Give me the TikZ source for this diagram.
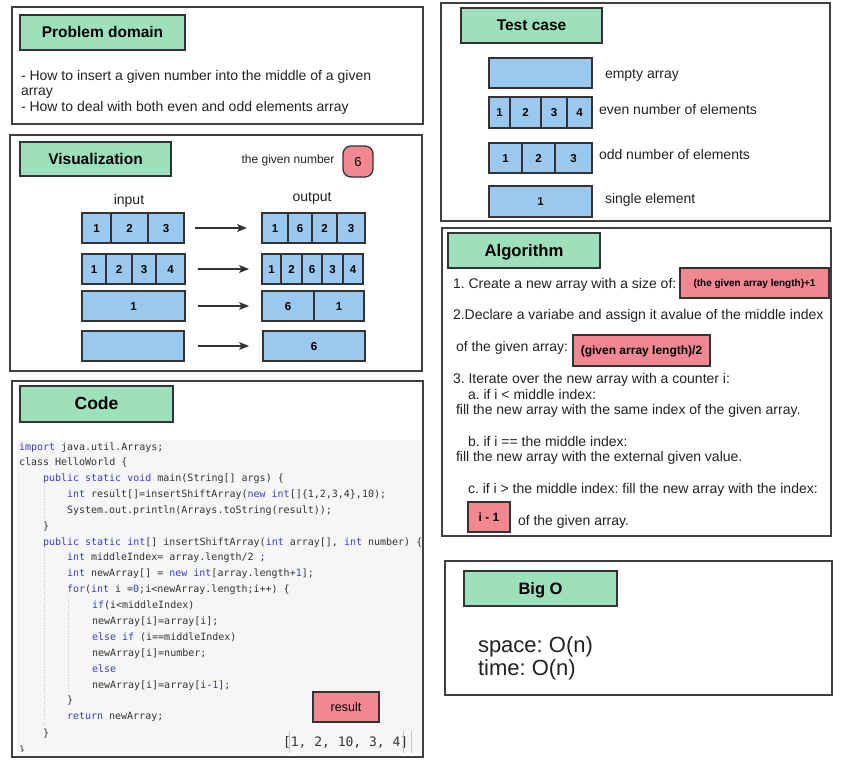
\documentclass[tikz,border=0pt]{standalone}
\usepackage{fontspec}
\setmainfont{Liberation Sans}
\newfontfamily\codefont{DejaVu Sans Mono}
\usetikzlibrary{arrows.meta}
\frenchspacing

\definecolor{edge}{RGB}{51,51,51}
\definecolor{panelline}{RGB}{64,64,64}
\definecolor{hdrgreen}{RGB}{158,224,188}
\definecolor{cellblue}{RGB}{155,200,238}
\definecolor{redfill}{RGB}{240,135,145}
\definecolor{textgray}{RGB}{34,34,34}
\definecolor{codebg}{RGB}{246,246,246}
\definecolor{codegray}{RGB}{51,51,51}
\definecolor{kw}{RGB}{60,60,200}
\definecolor{guide}{RGB}{205,205,205}

% box from its corner coordinates: style, name, x1, y1, x2, y2, text
\newcommand\boxat[7]{%
  \node[#1, minimum width={(#5-#3)*1pt}, minimum height={(#6-#4)*1pt}]
    (#2) at ({(#3+#5)/2},{(#4+#6)/2}) {#7};}
\newcommand\kw[1]{\textcolor{kw}{#1}}
\newcommand\codeline[4]{\node[codeln] (#1) at (#2,#3) {#4};}

\tikzset{
  panel/.style={draw=panelline, line width=1.3pt, fill=white, inner sep=0pt, outer sep=0pt},
  hdr/.style={draw=edge, line width=1.3pt, fill=hdrgreen, inner sep=0pt, outer sep=0pt,
    text=black, text height=11pt, text depth=0pt, font=\bfseries\fontsize{15.5}{18}\selectfont},
  cell/.style={draw=edge, line width=1.4pt, fill=cellblue, inner sep=0pt, outer sep=0pt,
    text=black, text height=8pt, text depth=0pt, font=\bfseries\fontsize{11.5}{13}\selectfont},
  redbox/.style={draw=edge, line width=1.3pt, fill=redfill, inner sep=0pt, outer sep=0pt,
    text=black, text height=8.6pt, text depth=0pt, font=\bfseries\fontsize{12}{14}\selectfont},
  txt/.style={inner sep=0pt, outer sep=0pt, text=textgray, text height=9.8pt, text depth=0pt,
    font=\fontsize{14}{17}\selectfont},
  small/.style={text height=8.4pt, font=\fontsize{12}{14}\selectfont},
  big/.style={text height=15.4pt, font=\fontsize{22}{26}\selectfont},
  codeln/.style={anchor=west, inner sep=0pt, outer sep=0pt, text=codegray, text height=7pt,
    text depth=0pt, font=\codefont\fontsize{10}{12}\selectfont},
  conn/.style={draw=edge, line width=1.4pt, -{Stealth[length=10pt, width=8pt, inset=2.5pt]}},
}

\begin{document}
\begin{tikzpicture}[x=1pt, y=-1pt]
\useasboundingbox (0,0) rectangle (850,762);

% ---------- panels ----------
\boxat{panel}{pdomain}{12}{7}{423}{124}{}
\boxat{panel}{pvis}{10}{135}{422}{371}{}
\boxat{panel}{pcode}{12}{381}{423}{757}{}
\boxat{panel}{ptest}{441}{3}{830}{221}{}
\boxat{panel}{palgo}{442}{228}{831}{536}{}
\boxat{panel}{pbigo}{445}{561}{832}{695}{}

% ---------- problem domain ----------
\boxat{hdr}{hdomain}{20}{15}{185}{50}{Problem domain}
\node[txt, anchor=west] (pd1) at (21,76) {- How to insert a given number into the middle of a given};
\node[txt, anchor=west] (pd2) at (21,91) {array};
\node[txt, anchor=west] (pd3) at (21,107) {- How to deal with both even and odd elements array};

% ---------- visualization ----------
\boxat{hdr}{hvis}{20}{142}{171}{176}{Visualization}
\node[txt, small] (given) at (288,159) {the given number};
\boxat{redbox, rounded corners=8pt, font=\fontsize{13}{15}\selectfont, text height=9.3pt}{gnum}{343}{146}{373}{177}{6}
\node[txt] (inlbl) at (129,200) {input};
\node[txt] (outlbl) at (312,197) {output};

% row 1
\boxat{cell}{v1ia}{82}{213}{111}{243}{1}
\boxat{cell}{v1ib}{111}{213}{148}{243}{2}
\boxat{cell}{v1ic}{148}{213}{184}{243}{3}
\boxat{cell}{v1oa}{262}{213}{288}{243}{1}
\boxat{cell}{v1ob}{288}{213}{312}{243}{6}
\boxat{cell}{v1oc}{312}{213}{337}{243}{2}
\boxat{cell}{v1od}{337}{213}{365}{243}{3}
% row 2
\boxat{cell}{v2ia}{82}{254}{106}{284}{1}
\boxat{cell}{v2ib}{106}{254}{132}{284}{2}
\boxat{cell}{v2ic}{132}{254}{156}{284}{3}
\boxat{cell}{v2id}{156}{254}{185}{284}{4}
\boxat{cell}{v2oa}{262}{254}{281}{284}{1}
\boxat{cell}{v2ob}{281}{254}{302}{284}{2}
\boxat{cell}{v2oc}{302}{254}{322}{284}{6}
\boxat{cell}{v2od}{322}{254}{343}{284}{3}
\boxat{cell}{v2oe}{343}{254}{363}{284}{4}
% row 3
\boxat{cell}{v3ia}{82}{291}{185}{321}{1}
\boxat{cell}{v3oa}{262}{291}{314}{321}{6}
\boxat{cell}{v3ob}{314}{291}{364}{321}{1}
% row 4
\boxat{cell}{v4ia}{82}{331}{184}{361}{}
\boxat{cell}{v4oa}{263}{331}{365}{361}{6}

\draw[conn, shorten <=11pt, shorten >=15pt] (v1ic) -- (v1oa);
\draw[conn, shorten <=13pt, shorten >=13pt] (v2id) -- (v2oa);
\draw[conn, shorten <=13pt, shorten >=13pt] (v3ia) -- (v3oa);
\draw[conn, shorten <=14pt, shorten >=14pt] (v4ia) -- (v4oa);

% ---------- code ----------
\boxat{hdr}{hcode}{20}{386}{173}{422}{\fontsize{17.5}{20}\selectfont Code}
\boxat{draw=none, fill=codebg, inner sep=0pt}{codearea}{17}{440}{422}{752}{}
\draw[guide, line width=0.6pt, dotted] (44,486) -- (44,518);
\draw[guide, line width=0.6pt, dotted] (44,550) -- (44,725);
\draw[guide, line width=0.6pt, dotted] (68,597) -- (68,693);
\begin{scope}
\clip (15,440) rectangle (430,751);
\codeline{c01}{19}{447}{\kw{import} java.util.Arrays;}
\codeline{c02}{19}{462}{class HelloWorld \{}
\codeline{c03}{43}{478}{\kw{public static void} main(String[] args) \{}
\codeline{c04}{67}{494}{\kw{int} result[]=insertShiftArray(\kw{new int}[]\{1,2,3,4\},10);}
\codeline{c05}{67}{510}{System.out.println(Arrays.toString(result));}
\codeline{c06}{43}{526}{\}}
\codeline{c07}{43}{542}{\kw{public static int}[] insertShiftArray(\kw{int} array[], \kw{int} number) \{}
\codeline{c08}{67}{557}{\kw{int} middleIndex= array.length/2 ;}
\codeline{c09}{67}{573}{\kw{int} newArray[] = \kw{new int}[array.length+\kw{1}];}
\codeline{c10}{67}{589}{\kw{for}(\kw{int} i =\kw{0};i<newArray.length;i++) \{}
\codeline{c11}{92}{605}{\kw{if}(i<middleIndex)}
\codeline{c12}{92}{621}{newArray[i]=array[i];}
\codeline{c13}{92}{637}{\kw{else if} (i==middleIndex)}
\codeline{c14}{92}{653}{newArray[i]=number;}
\codeline{c15}{92}{669}{\kw{else}}
\codeline{c16}{92}{685}{newArray[i]=array[i-\kw{1}];}
\codeline{c17}{67}{700}{\}}
\codeline{c18}{67}{716}{\kw{return} newArray;}
\codeline{c19}{43}{733}{\}}
\codeline{c20}{19}{750}{\}}
\end{scope}
\boxat{redbox, font=\fontsize{12.5}{15}\selectfont}{resbox}{313}{692}{379}{722}{result}
\node[codeln, font=\codefont\fontsize{13}{15}\selectfont, text height=9.1pt] (resout) at (283,742) {[1, 2, 10, 3, 4]};
\draw[gray!45, line width=0.5pt] (289,731) -- (289,753);
\draw[gray!45, line width=0.5pt] (403,731) -- (403,753);
\draw[gray!45, line width=0.5pt] (411,731) -- (411,753);

% ---------- test case ----------
\boxat{hdr}{htest}{461}{8}{602}{43}{Test case}
\boxat{cell}{t1a}{489}{58}{592}{88}{}
\boxat{cell}{t2a}{489}{97}{510}{128}{1}
\boxat{cell}{t2b}{510}{97}{541}{128}{2}
\boxat{cell}{t2c}{541}{97}{567}{128}{3}
\boxat{cell}{t2d}{567}{97}{592}{128}{4}
\boxat{cell}{t3a}{489}{143}{522}{173}{1}
\boxat{cell}{t3b}{522}{143}{555}{173}{2}
\boxat{cell}{t3c}{555}{143}{592}{173}{3}
\boxat{cell}{t4a}{489}{186}{592}{217}{1}
\node[txt, anchor=west] (tl1) at (605,74) {empty array};
\node[txt, anchor=west] (tl2) at (599,110) {even number of elements};
\node[txt, anchor=west] (tl3) at (599,155) {odd number of elements};
\node[txt, anchor=west] (tl4) at (605,199) {single element};

% ---------- algorithm ----------
\boxat{hdr}{halgo}{448}{233}{600}{268}{\fontsize{16.7}{20}\selectfont Algorithm}
\node[txt, anchor=west] (a1) at (453,284) {1. Create a new array with a size of:};
\boxat{redbox, font=\bfseries\fontsize{10}{12}\selectfont, text height=7.2pt}{r1}{680}{268}{829}{298}{(the given array length)+1}
\node[txt, anchor=west] (a2) at (453,315) {2.Declare a variabe and assign it avalue of the middle index};
\node[txt, anchor=west] (a3) at (456,347) {of the given array:};
\boxat{redbox}{r2}{573}{335}{710}{366}{(given array length)/2}
\node[txt, anchor=west] (a4) at (453,379) {3. Iterate over the new array with a counter i:};
\node[txt, anchor=west] (a5) at (468,395) {a. if i < middle index:};
\node[txt, anchor=west] (a6) at (456,410) {fill the new array with the same index of the given array.};
\node[txt, anchor=west] (a7) at (468,442) {b. if i == the middle index:};
\node[txt, anchor=west] (a8) at (456,457) {fill the new array with the external given value.};
\node[txt, anchor=west] (a9) at (468,489) {c. if i > the middle index: fill the new array with the index:};
\boxat{redbox}{r3}{468}{502}{510}{532}{i - 1}
\node[txt, anchor=west] (a10) at (518,521) {of the given array.};

% ---------- big O ----------
\boxat{hdr}{hbigo}{464}{571}{617}{606}{\fontsize{16.5}{20}\selectfont Big O}
\node[txt, big, anchor=west] (bo1) at (478,645) {space: O(n)};
\node[txt, big, anchor=west] (bo2) at (478,668) {time: O(n)};
\end{tikzpicture}
\end{document}
